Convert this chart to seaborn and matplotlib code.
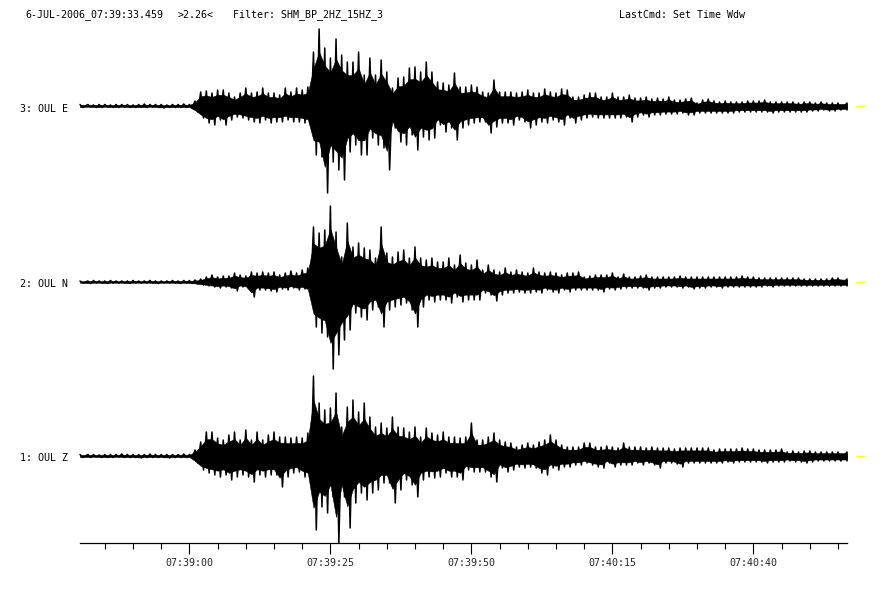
import numpy as np
import pandas as pd
import matplotlib
matplotlib.use("Agg")
import matplotlib.pyplot as plt
import seaborn as sns

# ---------------- data ----------------
# time axis: seconds relative to 07:39:00, one envelope sample per second
seconds = np.arange(-19, 117, dtype=float)
tick_seconds = [0, 25, 50, 75, 100]
tick_labels = ["07:39:00", "07:39:25", "07:39:50", "07:40:15", "07:40:40"]
minor_seconds = list(range(-15, 116, 5))
channels = ["3: OUL E", "2: OUL N", "1: OUL Z"]

header_time = "6-JUL-2006_07:39:33.459"
header_scale = ">2.26<"
header_filter = "Filter: SHM_BP_2HZ_15HZ_3"
header_cmd = "LastCmd: Set Time Wdw"

# upper / lower peak amplitude (counts, positive) per second
E_up = [1.5, 1.5, 1, 1.5, 1.5, 1, 1.5, 1.5, 1.5, 1, 1.5, 2, 1.5, 1.5, 1.5, 1, 1.5, 1.5, 2, 1.5,
        5, 14, 15, 13, 16, 16, 13, 9, 13, 18, 13, 14, 18, 13, 13, 11, 18, 14, 18, 16,
        19, 54, 77, 58, 48, 67, 51, 44, 44, 54, 31, 48, 31, 46, 34, 18, 28, 29, 38, 39,
        34, 44, 34, 24, 23, 21, 33, 19, 19, 21, 19,
        14, 13, 26, 14, 14, 14, 13, 14, 16, 13, 13, 17, 14, 13, 17, 16, 9, 9, 11, 13,
        13, 9, 9, 13, 9, 9, 11, 8, 8, 9, 7, 8, 7, 9, 6, 6, 7, 8, 3, 6,
        7, 5, 4, 5, 4, 4, 4, 5, 5, 5, 6, 4, 4, 4, 4, 4, 3, 4, 4, 3,
        4, 3, 3, 3, 3]
E_dn = [1.5, 1, 1.5, 1.5, 1, 1.5, 1.5, 1, 1.5, 1.5, 1.5, 1.5, 1, 1.5, 2, 1.5, 1.5, 1.5, 1.5, 1.5,
        6, 12, 17, 19, 14, 19, 14, 11, 12, 14, 16, 17, 14, 17, 16, 16, 14, 16, 16, 17,
        19, 49, 51, 87, 56, 64, 74, 46, 39, 49, 49, 32, 39, 42, 64, 22, 36, 39, 29, 44,
        31, 34, 32, 19, 26, 22, 34, 22, 19, 17, 16,
        16, 27, 21, 17, 17, 19, 14, 16, 22, 19, 16, 17, 14, 16, 19, 12, 17, 14, 12, 11,
        12, 12, 12, 12, 12, 11, 16, 11, 9, 11, 9, 9, 8, 8, 8, 7, 9, 9, 7, 7,
        7, 7, 7, 7, 7, 6, 6, 6, 6, 6, 6, 7, 6, 6, 6, 6, 6, 6, 5, 5,
        4, 5, 5, 4, 4]
N_up = [1, 1, 1.5, 1, 1, 1.5, 1, 1, 1, 1.5, 1, 1, 1.5, 1, 1, 1, 1.5, 1, 1.5, 1.5,
        2, 3, 5, 7, 5, 6, 6, 9, 7, 6, 10, 9, 10, 9, 10, 7, 9, 11, 9, 12,
        14, 55, 49, 52, 76, 50, 25, 59, 35, 39, 34, 32, 24, 55, 29, 25, 30, 32, 24, 35,
        24, 22, 24, 20, 20, 24, 17, 27, 19, 17, 22,
        12, 17, 12, 10, 14, 10, 12, 10, 9, 14, 10, 9, 10, 9, 7, 9, 9, 10, 5, 6,
        7, 7, 7, 9, 5, 8, 5, 5, 6, 7, 5, 5, 5, 5, 5, 6, 5, 5, 5, 5,
        5, 5, 5, 5, 5, 5, 6, 5, 5, 4, 4, 4, 4, 4, 4, 4, 4, 3, 3, 3,
        3, 3, 4, 4, 3]
N_dn = [1, 1.5, 1, 1, 1.5, 1, 1, 1, 1.5, 1, 1, 1, 1, 1.5, 1, 1, 1, 1.5, 1, 1.5,
        2, 3, 4, 5, 6, 5, 6, 9, 5, 6, 15, 8, 8, 9, 10, 7, 8, 6, 8, 7,
        10, 45, 51, 55, 87, 73, 58, 48, 31, 35, 38, 28, 25, 45, 28, 25, 23, 21, 28, 45,
        25, 18, 20, 18, 18, 21, 15, 20, 18, 18, 18,
        11, 13, 19, 13, 11, 11, 10, 11, 11, 10, 11, 8, 10, 11, 8, 10, 8, 8, 8, 8,
        8, 10, 7, 8, 7, 6, 6, 6, 6, 8, 6, 6, 5, 5, 5, 6, 5, 7, 6, 6,
        5, 5, 6, 5, 5, 5, 5, 5, 5, 5, 4, 5, 4, 4, 4, 4, 4, 4, 4, 4,
        4, 4, 4, 4, 4]
Z_up = [1.5, 1.5, 1.5, 1, 1.5, 1.5, 1.5, 2, 1.5, 1.5, 1.5, 1.5, 2, 1.5, 1.5, 1.5, 1.5, 1.5, 2, 1.5,
        6, 14, 24, 24, 18, 16, 21, 24, 16, 26, 16, 24, 16, 21, 24, 19, 19, 18, 19, 18,
        23, 80, 53, 46, 48, 63, 29, 49, 56, 44, 53, 39, 29, 33, 28, 39, 29, 28, 24, 29,
        19, 28, 23, 21, 24, 19, 19, 18, 19, 33, 16,
        16, 19, 23, 16, 14, 13, 9, 11, 13, 11, 14, 16, 21, 16, 11, 9, 9, 9, 13, 13,
        9, 9, 10, 9, 8, 13, 9, 9, 9, 8, 9, 8, 8, 8, 7, 8, 8, 8, 8, 8,
        8, 6, 7, 7, 7, 7, 8, 7, 7, 6, 6, 6, 6, 7, 4, 5, 4, 5, 5, 4,
        4, 4, 4, 4, 4]
Z_dn = [1.5, 1.5, 1, 1.5, 1.5, 1.5, 1, 1.5, 1.5, 1.5, 2, 1.5, 1.5, 1.5, 1.5, 2, 1.5, 1.5, 1.5, 1.5,
        7, 14, 17, 19, 21, 19, 24, 21, 19, 21, 26, 19, 21, 19, 19, 31, 21, 17, 16, 21,
        24, 74, 51, 57, 41, 87, 41, 72, 47, 37, 44, 37, 34, 27, 27, 47, 34, 24, 29, 41,
        24, 21, 22, 21, 17, 21, 21, 24, 14, 16, 16,
        16, 21, 26, 12, 16, 14, 11, 12, 11, 12, 17, 19, 12, 14, 11, 11, 9, 9, 7, 9,
        11, 12, 7, 11, 9, 9, 9, 7, 9, 7, 9, 12, 7, 7, 8, 11, 7, 7, 7, 7,
        7, 7, 7, 6, 7, 6, 6, 6, 6, 6, 7, 6, 6, 6, 5, 6, 6, 7, 6, 5,
        5, 5, 5, 5, 5]

uppers = [E_up, N_up, Z_up]
lowers = [E_dn, N_dn, Z_dn]

# ---------------- layout ----------------
W, H = 896, 593
baselines = [593 - 106, 593 - 282, 593 - 456]
label_y = [109, 284, 458]

sns.set_style("white")
mono = ["DejaVu Sans Mono"]
plt.rcParams["font.family"] = mono

fig = plt.figure(figsize=(W / 100, H / 100), dpi=100)
ax = fig.add_axes([80 / W, 50 / H, 767 / W, 523 / H])

t = seconds.copy()
t[0] = -19.4
t[-1] = 116.6

rows = []
for name, base, up, dn in zip(channels, baselines, uppers, lowers):
    up = np.asarray(up, dtype=float)
    dn = np.asarray(dn, dtype=float)
    # solid core of the trace
    ax.fill_between(t, base + 0.7 * up, base - 0.7 * dn, color="black", lw=0.4,
                    edgecolor="black", clip_on=False)
    # oscillation strokes: upper peak at each second, lower peak half a second later
    tz = np.empty(2 * len(t))
    yz = np.empty(2 * len(t))
    tz[0::2] = t
    tz[1::2] = np.minimum(t + 0.5, t[-1])
    yz[0::2] = base + up
    yz[1::2] = base - dn
    rows.append(pd.DataFrame({"t": tz, "y": yz, "trace": name}))

df = pd.concat(rows, ignore_index=True)
sns.lineplot(data=df, x="t", y="y", units="trace", estimator=None, sort=False,
             color="black", lw=1.1, ax=ax, legend=False, clip_on=False)

# yellow end markers
for base in baselines:
    ax.plot([118.2, 119.8], [base, base], color="#ffff00", lw=1.0, clip_on=False,
            solid_capstyle="butt")

ax.set_xlim(-19.4, 116.6)
ax.set_ylim(50, 573)
ax.set_xlabel("")
ax.set_ylabel("")
for s in ("top", "left", "right"):
    ax.spines[s].set_visible(False)
ax.spines["bottom"].set_linewidth(0.9)
ax.spines["bottom"].set_color("black")
ax.set_yticks([])
ax.set_xticks(tick_seconds)
ax.set_xticklabels(tick_labels, fontsize=7.2, family=mono)
ax.set_xticks(minor_seconds, minor=True)
ax.tick_params(axis="x", which="major", direction="out", length=8, width=0.8,
               color="black", pad=2.5, bottom=True)
ax.tick_params(axis="x", which="minor", direction="out", length=4.3, width=0.8,
               color="black", bottom=True)


def ptext(x, y, s):
    fig.text(x / W, 1 - y / H, s, va="center", ha="left", fontsize=7.2,
             family=mono, color="black")


ptext(25, 15, header_time)
ptext(178, 15, header_scale)
ptext(233, 15, header_filter)
ptext(619, 15, header_cmd)
for name, ly in zip(channels, label_y):
    ptext(20, ly, name)

fig.savefig("out.png", dpi=100, facecolor="white")
